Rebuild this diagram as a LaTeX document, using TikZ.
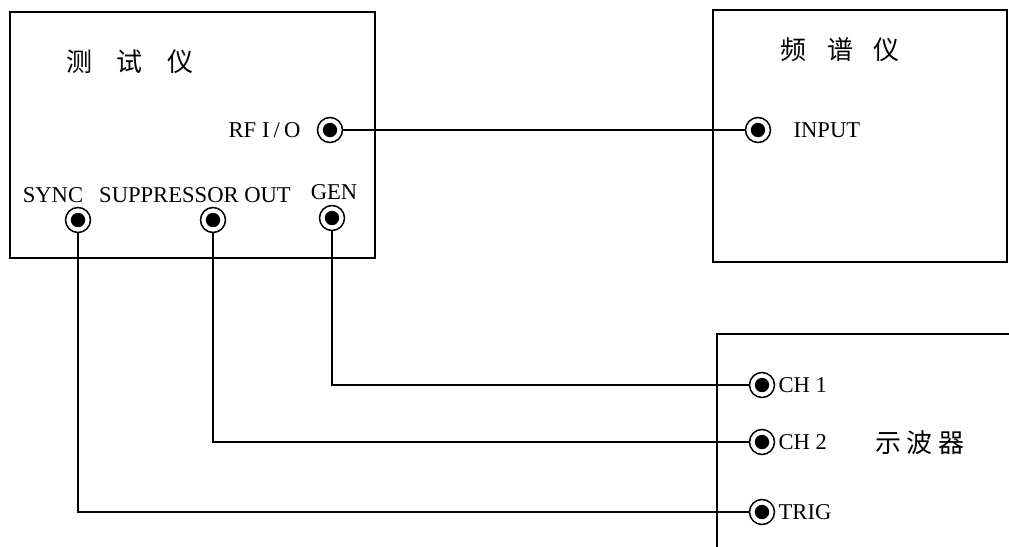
\documentclass[tikz,border=0pt]{standalone}
\usepackage{fontspec}
\setmainfont{Liberation Serif}
\newfontfamily\cjk{Noto Sans CJK SC}
\usetikzlibrary{positioning}

\begin{document}
\begin{tikzpicture}[x=0.5pt, y=-0.5pt,
  panel/.style={draw, line width=1pt},
  jack/.style={circle, draw, line width=0.75pt, minimum size=12.5pt, inner sep=0pt,
               path picture={\fill (path picture bounding box.center) circle (3.6pt);}},
  lbl/.style={font=\fontsize{11.3}{12}\selectfont, inner sep=0pt},
  title/.style={font=\cjk\fontsize{13}{14}\selectfont, inner sep=0pt},
  wire/.style={draw, line width=0.7pt}]

\useasboundingbox (0,0) rectangle (1009,547);

% tester
\draw[panel] (10,12) rectangle (375,258);
\node[title] (tester) at (130,62) {测\hspace{0.95em}试\hspace{0.95em}仪};
\node[jack] (rf) at (330,130) {};
\node[lbl, left=8pt of rf] (rflbl) {RF\hspace{3pt}I\hspace{2pt}/\hspace{2pt}O};
\node[jack] (sync) at (78,220) {};
\node[jack] (supp) at (213,220) {};
\node[jack] (gen) at (332,218) {};
\node[lbl] (synclbl) at (53,195) {SYNC};
\node[lbl] (supplbl) at (195,195) {SUPPRESSOR OUT};
\node[lbl] (genlbl) at (334,192) {GEN};

% spectrum analyzer
\draw[panel] (713,10) rectangle (1007,262);
\node[title] (analyzer) at (840,50) {频\hspace{0.8em}谱\hspace{0.8em}仪};
\node[jack] (input) at (758,130) {};
\node[lbl, right=11pt of input] (inputlbl) {INPUT};

% oscilloscope
\draw[panel] (1009,334) -- (717,334) -- (717,547);
\node[jack] (ch1) at (762,385) {};
\node[jack] (ch2) at (762,442) {};
\node[jack] (trig) at (762,512) {};
\node[lbl, right=1.5pt of ch1] (ch1lbl) {CH 1};
\node[lbl, right=1.5pt of ch2] (ch2lbl) {CH 2};
\node[lbl, right=1.5pt of trig] (triglbl) {TRIG};
\node[title] (osc) at (920,443) {示\hspace{0.2em}波\hspace{0.2em}器};

\draw[wire] (rf) -- (input);
\draw[wire] (gen) |- (ch1);
\draw[wire] (supp) |- (ch2);
\draw[wire] (sync) |- (trig);
\end{tikzpicture}
\end{document}
